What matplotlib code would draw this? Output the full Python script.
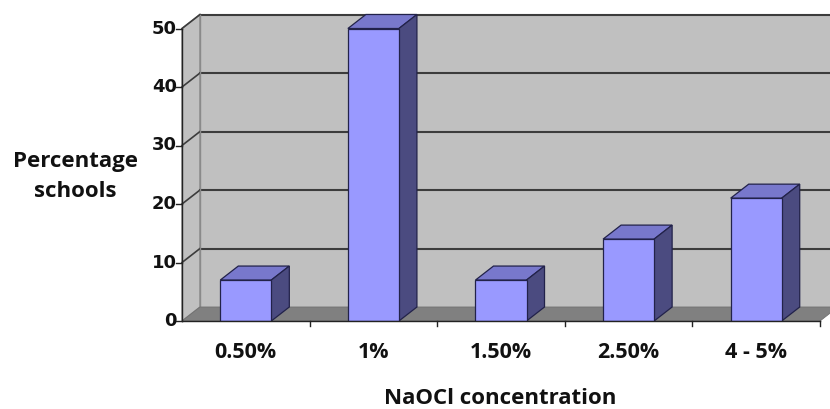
import matplotlib
matplotlib.use("Agg")
import matplotlib.pyplot as plt
from matplotlib.patches import Polygon

# Data
categories = ["0.50%", "1%", "1.50%", "2.50%", "4 - 5%"]
values = [7, 50, 7, 14, 21]
y_ticks = [0, 10, 20, 30, 40, 50]
x_title = "NaOCl concentration"
y_title_lines = ["Percentage", "schools"]

# Figure geometry (pixels at 100 dpi)
W, H = 830, 409
ORIGIN_X, ORIGIN_Y = 182, 321       # front-left corner of the plot floor
PX_PER_CAT = 127.6
PX_PER_UNIT = 5.85
DEPTH_PX = (18, 14)                 # oblique depth offset

fig = plt.figure(figsize=(W / 100, H / 100), dpi=100)
ax = fig.add_axes([ORIGIN_X / W, (H - ORIGIN_Y) / H,
                   (W - ORIGIN_X) / W, ORIGIN_Y / H])
xmin = -0.5
xmax = xmin + (W - ORIGIN_X) / PX_PER_CAT
ymax = ORIGIN_Y / PX_PER_UNIT
ax.set_xlim(xmin, xmax)
ax.set_ylim(0, ymax)
ax.axis("off")

DX = DEPTH_PX[0] / PX_PER_CAT
DY = DEPTH_PX[1] / PX_PER_UNIT
n = len(categories)
xr = n - 0.5
top = max(y_ticks)

wall = "#C0C0C0"
floor = "#808080"
grid_c = "#3c3c3c"
text_c = "#111111"
label_font = dict(fontweight="bold", family="Open Sans", color=text_c)

# back wall
ax.add_patch(Polygon([(xmin + DX, DY), (xr + DX, DY), (xr + DX, top + DY),
                      (xmin + DX, top + DY)], closed=True, facecolor=wall,
                     edgecolor="none", zorder=1, clip_on=False))
# left side wall
ax.add_patch(Polygon([(xmin, 0), (xmin + DX, DY), (xmin + DX, top + DY),
                      (xmin, top)], closed=True, facecolor=wall,
                     edgecolor="#8a8a8a", lw=1.0, zorder=1, clip_on=False))
# gridlines on back and side walls
for t in y_ticks[1:]:
    ax.plot([xmin + DX, xr + DX], [t + DY, t + DY], color=grid_c, lw=1.5,
            zorder=2, clip_on=True)
    ax.plot([xmin, xmin + DX], [t, t + DY], color=grid_c, lw=1.2, zorder=2,
            clip_on=False)
ax.plot([xmin + DX, xmin + DX], [DY, top + DY], color="#8a8a8a", lw=1.0,
        zorder=2)
# floor
ax.add_patch(Polygon([(xmin, 0), (xr, 0), (xr + DX, DY), (xmin + DX, DY)],
                     closed=True, facecolor=floor, edgecolor="#707070",
                     lw=0.6, zorder=3, clip_on=True))

# bars
bw = 0.4
xs = list(range(n))
edge = "#22224a"
ax.bar(xs, values, width=bw, color="#9999FF", edgecolor=edge, lw=0.9,
       zorder=6)
for x, v in zip(xs, values):
    l, r = x - bw / 2, x + bw / 2
    ax.add_patch(Polygon([(l, v), (r, v), (r + DX, v + DY), (l + DX, v + DY)],
                         closed=True, facecolor="#7878CC", edgecolor=edge,
                         lw=0.9, zorder=5, clip_on=False))
    ax.add_patch(Polygon([(r, 0), (r + DX, DY), (r + DX, v + DY), (r, v)],
                         closed=True, facecolor="#4B4B80", edgecolor=edge,
                         lw=0.9, zorder=5, clip_on=False))

# front axes lines and ticks
ax.plot([xmin, xmin], [0, top], color="#222222", lw=1.0, zorder=7,
        clip_on=False)
ax.plot([xmin, xr], [0, 0], color="#222222", lw=1.0, zorder=7, clip_on=False)
tick_y = 5 / PX_PER_UNIT
tick_x = 6 / PX_PER_CAT
for t in y_ticks:
    ax.plot([xmin - tick_x, xmin], [t, t], color="#222222", lw=1.0,
            zorder=7, clip_on=False)
    ax.text(xmin - 5 / PX_PER_CAT, t, str(t), ha="right", va="center",
            fontsize=13, fontweight="bold", family="DejaVu Sans",
            color=text_c)
for b in range(n):
    xb = b + 0.5
    ax.plot([xb, xb], [0, -tick_y], color="#222222", lw=1.0, zorder=7,
            clip_on=False)

for x, c in zip(xs, categories):
    ax.text(x, -31 / PX_PER_UNIT, c, ha="center", va="center", fontsize=15.5,
            **label_font)

fig.text(500 / W, 1 - 398 / H, x_title, ha="center", va="center",
         fontsize=16, **label_font)
for i, line in enumerate(y_title_lines):
    fig.text(75 / W, 1 - (161 + 31 * i) / H, line, ha="center", va="center",
             fontsize=16, **label_font)

fig.savefig("out.png", dpi=100, facecolor="white")
